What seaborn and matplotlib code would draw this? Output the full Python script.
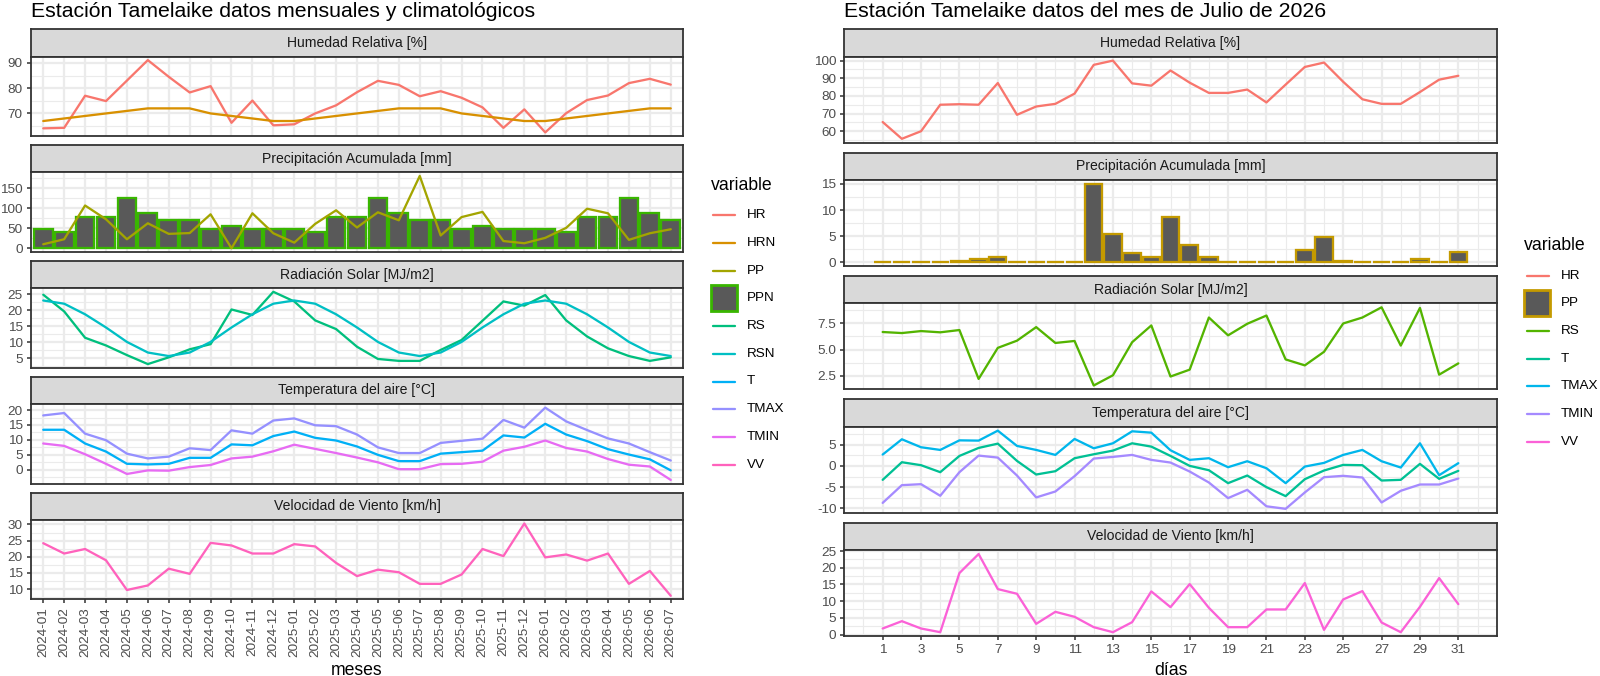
import pandas as pd
import numpy as np
import seaborn as sns
import matplotlib.pyplot as plt
from matplotlib.ticker import MultipleLocator, FixedLocator, FormatStrFormatter
from matplotlib.lines import Line2D
from matplotlib.patches import Rectangle

sns.set_theme(style="white")
plt.rcParams['font.family'] = ['Liberation Sans', 'DejaVu Sans']
plt.rcParams['axes.unicode_minus'] = False

# ---- datos mensuales (2024-01 .. 2026-07) ----
meses = ["2024-01", "2024-02", "2024-03", "2024-04", "2024-05", "2024-06", "2024-07",
         "2024-08", "2024-09", "2024-10", "2024-11", "2024-12", "2025-01", "2025-02",
         "2025-03", "2025-04", "2025-05", "2025-06", "2025-07", "2025-08", "2025-09",
         "2025-10", "2025-11", "2025-12", "2026-01", "2026-02", "2026-03", "2026-04",
         "2026-05", "2026-06", "2026-07"]
HR = [64.1, 64.3, 77.0, 74.9, 83.0, 91.1, 84.5, 78.3, 80.8, 66.3, 75.1, 65.3, 65.7, 70.0,
      73.2, 78.4, 82.9, 81.3, 76.8, 78.8, 76.2, 72.4, 64.3, 71.6, 62.5, 70.1, 75.3, 77.1,
      82.0, 83.7, 81.4]
HRN = [67, 68, 69, 70, 71, 72, 72, 72, 70, 69, 68, 67, 67, 68, 69, 70, 71, 72, 72, 72,
       70, 69, 68, 67, 67, 68, 69, 70, 71, 72, 72]
PP = [10, 22.5, 107, 72.5, 22.5, 62.5, 36, 38, 85, 0, 87.5, 37.5, 14, 61, 95, 52, 90, 70,
      181, 32, 78, 91, 18, 12.5, 26, 51, 99, 87.5, 21, 37.5, 47.5]
PPN = [47, 40, 79, 79, 127, 87, 71, 71, 47, 56, 47, 47, 47, 40, 79, 79, 127, 87, 71, 71,
       47, 56, 47, 47, 47, 40, 79, 79, 127, 87, 71]
RS = [24.8, 19.6, 11.4, 9.0, 6.0, 3.2, 5.3, 7.8, 9.4, 20.2, 18.5, 25.7, 22.7, 16.8, 14.1,
      8.6, 4.8, 4.2, 4.2, 7.6, 10.7, 16.7, 22.7, 21.4, 24.7, 16.8, 11.8, 8.1, 5.7, 4.2, 5.3]
RSN = [23, 22, 18.7, 14.6, 10.1, 6.8, 5.7, 6.8, 10.1, 14.6, 18.7, 22, 23, 22, 18.7, 14.6,
       10.1, 6.8, 5.7, 6.8, 10.1, 14.6, 18.7, 22, 23, 22, 18.7, 14.6, 10.1, 6.8, 5.7]
T = [13.4, 13.4, 8.8, 6.1, 2.0, 1.8, 2.0, 4.0, 4.0, 8.5, 8.2, 11.3, 12.8, 10.7, 9.8, 7.8,
     5.0, 2.9, 2.9, 5.4, 5.9, 6.4, 11.5, 10.8, 15.4, 11.8, 9.6, 6.9, 5.1, 3.5, -0.2]
TMAX = [18.2, 19.0, 12.1, 9.9, 5.4, 3.8, 4.4, 7.2, 6.6, 13.2, 12.1, 16.5, 17.2, 14.9, 14.6,
        11.8, 7.5, 5.6, 5.6, 9.0, 9.7, 10.4, 16.7, 14.1, 20.8, 16.2, 13.3, 10.5, 8.8, 5.9, 3.1]
TMIN = [8.8, 8.0, 5.2, 2.0, -1.4, -0.2, -0.3, 0.9, 1.6, 3.8, 4.4, 6.2, 8.4, 7.0, 5.6, 4.1,
        2.5, 0.2, 0.2, 1.9, 2.0, 2.7, 6.4, 7.7, 9.8, 7.3, 6.1, 3.6, 1.7, 1.1, -3.4]
VV = [24.2, 21.0, 22.4, 18.9, 9.7, 11.1, 16.3, 14.7, 24.3, 23.5, 21.0, 21.0, 23.9, 23.2,
      18.1, 14.0, 16.0, 15.2, 11.6, 11.6, 14.5, 22.4, 20.2, 30.3, 19.8, 20.7, 18.8, 21.0,
      11.6, 15.6, 7.9]

# ---- datos diarios julio 2026 ----
dias = [1, 2, 3, 4, 5, 6, 7, 8, 9, 10, 11, 12, 13, 14, 15, 16, 17, 18, 19, 20, 21, 22, 23,
        24, 25, 26, 27, 28, 29, 30, 31]
HR_d = [65.2, 55.7, 60.0, 75.0, 75.3, 75.0, 87.3, 69.3, 74.0, 75.5, 81.3, 97.6, 100.0,
        87.1, 85.8, 94.4, 87.5, 81.7, 81.7, 83.6, 76.3, 86.4, 96.4, 98.9, 88.0, 78.1, 75.5,
        75.5, 82.2, 89.2, 91.4]
PP_d = [0, 0, 0, 0, 0.2, 0.6, 0.9, 0, 0, 0, 0, 15.0, 5.4, 1.8, 0.9, 8.6, 3.2, 0.9, 0, 0,
        0, 0, 2.4, 4.9, 0.3, 0, 0, 0, 0.6, 0, 1.9]
RS_d = [6.68, 6.58, 6.77, 6.65, 6.87, 2.18, 5.16, 5.85, 7.15, 5.63, 5.82, 1.55, 2.53, 5.70,
        7.31, 2.41, 3.07, 8.07, 6.36, 7.47, 8.26, 4.05, 3.48, 4.78, 7.50, 8.07, 9.05, 5.38,
        8.99, 2.59, 3.67]
T_d = [-3.28, 0.86, 0.16, -1.48, 2.34, 4.22, 5.23, 1.17, -2.03, -1.25, 1.80, 2.73, 3.59,
       5.31, 4.53, 2.34, 0.0, -1.02, -4.06, -2.27, -5.0, -7.11, -3.13, -1.09, 0.23, 0.16,
       -3.44, -3.28, 0.47, -3.05, -1.17]
TMAX_d = [2.66, 6.25, 4.38, 3.75, 6.0, 5.94, 8.28, 4.69, 3.75, 2.58, 6.33, 4.14, 5.31, 8.13,
          7.81, 3.67, 1.41, 1.80, -0.31, 1.09, -0.55, -4.06, -0.16, 0.70, 2.58, 3.75, 1.09,
          -0.39, 5.31, -2.19, 0.63]
TMIN_d = [-8.7, -4.53, -4.30, -7.03, -1.48, 2.42, 1.95, -2.27, -7.42, -6.02, -2.42, 1.72,
          2.11, 2.58, 1.41, 0.78, -1.33, -3.91, -7.58, -5.63, -9.5, -10.1, -6.25, -2.66,
          -2.34, -2.73, -8.6, -5.86, -4.38, -4.38, -2.97]
VV_d = [1.8, 4.0, 1.8, 0.7, 18.4, 24.1, 13.6, 12.2, 3.2, 6.8, 5.3, 2.2, 0.7, 3.7, 12.9, 8.2,
        15.1, 8.0, 2.2, 2.2, 7.5, 7.5, 15.4, 1.4, 10.5, 13.0, 3.6, 0.7, 8.3, 16.9, 9.1]

# ggplot hue colours
pal_mes = {"HR": "#F8766D", "HRN": "#D89000", "PP": "#A3A500", "PPN": "#39B600",
           "RS": "#00BF7D", "RSN": "#00BFC4", "T": "#00B0F6", "TMAX": "#9590FF",
           "TMIN": "#E76BF3", "VV": "#FF62BC"}
pal_dia = {"HR": "#F8766D", "PP": "#C49A00", "RS": "#53B400", "T": "#00C094",
           "TMAX": "#00B6EB", "TMIN": "#A58AFF", "VV": "#FB61D7"}

df_mes = pd.DataFrame({"x": np.arange(1, 32), "HR": HR, "HRN": HRN, "PP": PP, "PPN": PPN,
                       "RS": RS, "RSN": RSN, "T": T, "TMAX": TMAX, "TMIN": TMIN, "VV": VV})
df_dia = pd.DataFrame({"x": dias, "HR": HR_d, "PP": PP_d, "RS": RS_d, "T": T_d,
                       "TMAX": TMAX_d, "TMIN": TMIN_d, "VV": VV_d})
long_mes = df_mes.melt(id_vars="x", var_name="variable", value_name="valor")
long_dia = df_dia.melt(id_vars="x", var_name="variable", value_name="valor")

W, H = 1600, 676
fig = plt.figure(figsize=(W / 100, H / 100), dpi=100)
fig.patch.set_facecolor("white")

F_TICK = 9.7
F_STRIP = 10.1
F_LEG = 9.7
F_MED = 12.7
F_TITLE = 15.3
LW = 1.65
BORDER = "#333333"
GRID = "#EBEBEB"


def px_axes(x0, y0, x1, y1):
    return fig.add_axes([x0 / W, 1 - y1 / H, (x1 - x0) / W, (y1 - y0) / H])


def strip(x0, y0, x1, y1, label):
    s = px_axes(x0, y0, x1, y1)
    s.set_facecolor("#D9D9D9")
    s.set_xticks([])
    s.set_yticks([])
    for sp in s.spines.values():
        sp.set_color(BORDER)
        sp.set_linewidth(1.3)
    s.text(0.5, 0.5, label, ha="center", va="center", fontsize=F_STRIP, color="#1A1A1A",
           transform=s.transAxes)


def facet_panel(ax, data, pal, lines, bar, yticks, ystep, fmt=None):
    vals = []
    if bar is not None:
        sub = data[data["variable"] == bar]
        sns.barplot(data=sub, x="x", y="valor", native_scale=True, orient="x", width=0.9,
                    color="#595959", saturation=1, edgecolor=pal[bar], linewidth=LW,
                    errorbar=None, ax=ax, zorder=2)
        vals += list(sub["valor"]) + [0]
    if lines:
        sub = data[data["variable"].isin(lines)]
        sns.lineplot(data=sub, x="x", y="valor", hue="variable", hue_order=lines,
                     palette=pal, legend=False, estimator=None, linewidth=LW, ax=ax,
                     zorder=3)
        vals += list(sub["valor"])
    lo, hi = min(vals), max(vals)
    r = hi - lo
    ax.set_ylim(lo - 0.05 * r, hi + 0.05 * r)
    ax.set_xlabel("")
    ax.set_ylabel("")
    ax.set_facecolor("white")
    ax.set_axisbelow(True)
    ax.yaxis.set_major_locator(FixedLocator(yticks))
    ax.yaxis.set_minor_locator(MultipleLocator(ystep))
    if fmt:
        ax.yaxis.set_major_formatter(FormatStrFormatter(fmt))
    ax.yaxis.grid(True, which="major", color=GRID, linewidth=LW)
    ax.yaxis.grid(True, which="minor", color=GRID, linewidth=LW / 2)
    ax.tick_params(axis="y", which="major", length=3.2, width=1.1, color=BORDER,
                   labelsize=F_TICK, labelcolor="#4D4D4D", pad=2.5, left=True)
    ax.tick_params(which="minor", length=0)
    for sp in ax.spines.values():
        sp.set_color(BORDER)
        sp.set_linewidth(1.3)


# ---------------- panel izquierdo ----------------
facets_mes = [
    ("Humedad Relativa [%]", ["HR", "HRN"], None, [70, 80, 90], 5, None),
    ("Precipitación Acumulada [mm]", ["PP"], "PPN", [0, 50, 100, 150], 25, None),
    ("Radiación Solar [MJ/m2]", ["RS", "RSN"], None, [5, 10, 15, 20, 25], 2.5, None),
    ("Temperatura del aire [°C]", ["T", "TMAX", "TMIN"], None, [0, 5, 10, 15, 20], 2.5, None),
    ("Velocidad de Viento [km/h]", ["VV"], None, [10, 15, 20, 25, 30], 2.5, None),
]
LX0, LX1 = 30.7, 683.3
for i, (lab, lines, bar, yt, ys, fmt) in enumerate(facets_mes):
    top = 29.3 + i * 115.85
    strip(LX0, top, LX1, top + 27.2, lab)
    ax = px_axes(LX0, top + 27.2, LX1, top + 27.2 + 79.5)
    facet_panel(ax, long_mes, pal_mes, lines, bar, yt, ys, fmt)
    ax.set_xlim(0.4, 31.6)
    ax.xaxis.set_major_locator(FixedLocator(df_mes["x"]))
    ax.xaxis.grid(True, which="major", color=GRID, linewidth=LW)
    if i == len(facets_mes) - 1:
        ax.set_xticklabels(meses, rotation=90)
        ax.tick_params(axis="x", which="major", length=3.2, width=1.1, color=BORDER,
                       labelsize=F_TICK, labelcolor="#4D4D4D", pad=2.5, bottom=True)
    else:
        ax.tick_params(axis="x", length=0, labelbottom=False)

# ---------------- panel derecho ----------------
facets_dia = [
    ("Humedad Relativa [%]", ["HR"], None, [60, 70, 80, 90, 100], 5, None),
    ("Precipitación Acumulada [mm]", [], "PP", [0, 5, 10, 15], 2.5, None),
    ("Radiación Solar [MJ/m2]", ["RS"], None, [2.5, 5.0, 7.5], 1.25, "%.1f"),
    ("Temperatura del aire [°C]", ["T", "TMAX", "TMIN"], None, [-10, -5, 0, 5], 2.5, None),
    ("Velocidad de Viento [km/h]", ["VV"], None, [0, 5, 10, 15, 20, 25], 2.5, None),
]
RX0, RX1 = 844.3, 1496.7
for i, (lab, lines, bar, yt, ys, fmt) in enumerate(facets_dia):
    top = 29.3 + i * 123.35
    strip(RX0, top, RX1, top + 27.4, lab)
    ax = px_axes(RX0, top + 27.4, RX1, top + 27.4 + 86)
    facet_panel(ax, long_dia, pal_dia, lines, bar, yt, ys, fmt)
    ax.set_xlim(-1, 33)
    ax.xaxis.set_major_locator(FixedLocator(dias[::2]))
    ax.xaxis.set_minor_locator(FixedLocator(np.arange(0, 33, 2)))
    ax.xaxis.grid(True, which="major", color=GRID, linewidth=LW)
    ax.xaxis.grid(True, which="minor", color=GRID, linewidth=LW / 2)
    ax.tick_params(which="minor", length=0)
    if i == len(facets_dia) - 1:
        ax.set_xticklabels([str(d) for d in dias[::2]])
        ax.tick_params(axis="x", which="major", length=3.2, width=1.1, color=BORDER,
                       labelsize=F_TICK, labelcolor="#4D4D4D", pad=2.5, bottom=True)
    else:
        ax.tick_params(axis="x", which="both", length=0, labelbottom=False)

# ---------------- títulos ----------------
fig.text(LX0 / W, 1 - 17 / H, "Estación Tamelaike datos mensuales y climatológicos",
         fontsize=F_TITLE, ha="left", va="baseline", color="black")
fig.text(RX0 / W, 1 - 17 / H, "Estación Tamelaike datos del mes de Julio de 2026",
         fontsize=F_TITLE, ha="left", va="baseline", color="black")
fig.text((LX0 + LX1) / 2 / W, 1 - 675 / H, "meses", fontsize=F_MED, ha="center",
         va="baseline", color="black")
fig.text((RX0 + RX1) / 2 / W, 1 - 675 / H, "días", fontsize=F_MED, ha="center",
         va="baseline", color="black")


# ---------------- leyendas ----------------
def legend(x_title, y_title, x_key, y0, dy, names, pal, bar_name):
    fig.text(x_title / W, 1 - y_title / H, "variable", fontsize=F_MED, ha="left",
             va="center", color="black")
    for k, name in enumerate(names):
        y = y0 + k * dy
        if name == bar_name:
            fig.add_artist(Rectangle(((x_key - 1.5) / W, 1 - (y + 13) / H), 26 / W, 26 / H,
                                     transform=fig.transFigure, facecolor="#595959",
                                     edgecolor=pal[name], linewidth=2.0))
        else:
            fig.add_artist(Line2D([(x_key + 1) / W, (x_key + 23) / W],
                                  [1 - y / H, 1 - y / H], transform=fig.transFigure,
                                  color=pal[name], linewidth=LW))
        fig.text((x_key + 35) / W, 1 - y / H, name, fontsize=F_LEG, ha="left",
                 va="center", color="black")


legend(710.7, 185, 712, 215, 27.75, list(pal_mes.keys()), pal_mes, "PPN")
legend(1524, 245, 1525.7, 275.7, 27.7, list(pal_dia.keys()), pal_dia, "PP")

fig.savefig("out.png", dpi=100, facecolor="white")
